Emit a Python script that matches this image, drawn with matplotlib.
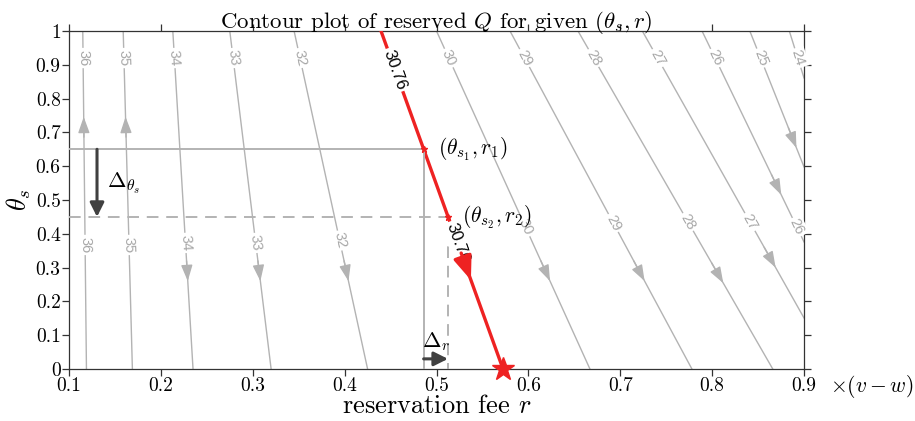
import numpy as np
import matplotlib
matplotlib.use("Agg")
import matplotlib.pyplot as plt

plt.rcParams['font.family'] = 'serif'
plt.rcParams['font.serif'] = ['cmr10']
plt.rcParams['mathtext.fontset'] = 'cm'
plt.rcParams['axes.formatter.use_mathtext'] = True

# grey contour levels: r where each line crosses theta=1, and where it leaves the box
levels = [36, 35, 34, 33, 32, 30, 29, 28, 27, 26, 25, 24]
r_top = [0.115, 0.159, 0.213, 0.275, 0.345, 0.500, 0.580, 0.654, 0.724, 0.789, 0.841, 0.884]
r_end = [0.119, 0.169, 0.235, 0.320, 0.425, 0.667, 0.778, 0.866, 0.9, 0.9, 0.9, 0.9]
th_end = [0, 0, 0, 0, 0, 0, 0, 0, 0.151, 0.376, 0.598, 0.861]
label_top_th = [0.92] * 12
label_bot_th = [0.367, 0.367, 0.373, 0.373, 0.38, 0.42, 0.432, 0.435, 0.435, 0.42, None, None]
arrow_th = [0.746, 0.746, 0.26, 0.26, 0.26, 0.26, 0.26, 0.254, 0.30, 0.515, 0.654, None]
arrow_up = [True, True, False, False, False, False, False, False, False, False, False, False]

# highlighted contour Q = 30.76
red_level = 30.76
red_top = 0.4396
red_bot = 0.5724
red_label_th = [0.885, 0.373]
red_arrow_th = 0.263

theta1, r1 = 0.65, 0.486
theta2, r2 = 0.45, 0.5125

grey = '#b3b3b3'
red = '#ee2222'
dark = '#404040'

fig = plt.figure(figsize=(9.15, 4.21), dpi=100)
ax = fig.add_axes([0.0754, 0.1235, 0.8033, 0.8029])
ax.set_xlim(0.1, 0.9)
ax.set_ylim(0, 1)


def along(rt, re, te, th):
    # point on the straight contour at height th
    return rt + (re - rt) * (1 - th) / (1 - te)


def angle(p, q):
    a = ax.transData.transform(p)
    b = ax.transData.transform(q)
    return np.degrees(np.arctan2(b[1] - a[1], b[0] - a[0]))


for i, lev in enumerate(levels):
    ax.plot([r_top[i], r_end[i]], [1, th_end[i]], color=grey, lw=1.0, zorder=2)
    rot = angle((r_top[i], 1), (r_end[i], th_end[i]))
    for th in [label_top_th[i], label_bot_th[i]]:
        if th is None:
            continue
        x = along(r_top[i], r_end[i], th_end[i], th)
        ax.text(x, th, str(lev), rotation=rot, rotation_mode='anchor', ha='center', va='center',
                fontsize=10.5, color='#a8a8a8', family='Liberation Sans', zorder=3,
                bbox=dict(fc='white', ec='none', pad=1.5))
    if arrow_th[i] is not None:
        th = arrow_th[i]
        d = -0.06 if not arrow_up[i] else 0.06
        x0 = along(r_top[i], r_end[i], th_end[i], th - d)
        x1 = along(r_top[i], r_end[i], th_end[i], th)
        ax.annotate('', xy=(x1, th), xytext=(x0, th - d),
                    arrowprops=dict(arrowstyle='-|>,head_length=0.7,head_width=0.25', color=grey,
                                    lw=1.0, shrinkA=0, shrinkB=0, mutation_scale=14), zorder=3)

# red contour
ax.plot([red_top, red_bot], [1, 0], color=red, lw=2.4, zorder=4)
rot = angle((red_top, 1), (red_bot, 0))
for th in red_label_th:
    x = along(red_top, red_bot, 0, th)
    ax.text(x, th, '%.2f' % red_level, rotation=rot, rotation_mode='anchor', ha='center', va='center',
            fontsize=12, color='black', family='Liberation Sans', zorder=5,
            bbox=dict(fc='white', ec='none', pad=1.5))
xa0 = along(red_top, red_bot, 0, red_arrow_th + 0.08)
xa1 = along(red_top, red_bot, 0, red_arrow_th)
ax.annotate('', xy=(xa1, red_arrow_th), xytext=(xa0, red_arrow_th + 0.08),
            arrowprops=dict(arrowstyle='-|>,head_length=0.9,head_width=0.35', color=red,
                            lw=2.4, shrinkA=0, shrinkB=0, mutation_scale=16), zorder=5)
ax.plot([red_bot], [0], marker='*', color=red, markersize=17, clip_on=False, zorder=6)
ax.plot([r1, r2], [theta1, theta2], ls='none', marker='*', color=red, markersize=5, zorder=6)

# reference lines
ax.plot([0.1, r1, r1], [theta1, theta1, 0], color=grey, lw=1.4, zorder=4)
ax.plot([0.1, r2, r2], [theta2, theta2, 0], color=grey, lw=1.4, ls=(0, (6, 4)), zorder=4)

# delta arrows
ax.annotate('', xy=(0.1305, theta2), xytext=(0.1305, theta1),
            arrowprops=dict(arrowstyle='-|>,head_length=0.6,head_width=0.3', color=dark, lw=2.2,
                            shrinkA=0, shrinkB=0, mutation_scale=14), zorder=6)
ax.text(0.141, 0.55, r'$\Delta_{\theta_s}$', fontsize=16, va='center', ha='left', zorder=6)
ax.annotate('', xy=(r2, 0.03), xytext=(r1, 0.03),
            arrowprops=dict(arrowstyle='-|>,head_length=0.6,head_width=0.3', color=dark, lw=2.2,
                            shrinkA=0, shrinkB=0, mutation_scale=14), zorder=6)
ax.text(r1 - 0.002, 0.08, r'$\Delta_r$', fontsize=16, va='center', ha='left', zorder=6)

ax.text(0.5017, theta1, r'$(\theta_{s_1}, r_1)$', fontsize=15.5, va='center', ha='left', zorder=6)
ax.text(0.5275, theta2, r'$(\theta_{s_2}, r_2)$', fontsize=15.5, va='center', ha='left', zorder=6)

xticks = [0.1, 0.2, 0.3, 0.4, 0.5, 0.6, 0.7, 0.8, 0.9]
yticks = [0, 0.1, 0.2, 0.3, 0.4, 0.5, 0.6, 0.7, 0.8, 0.9, 1]
ax.set_xticks(xticks)
ax.set_xticklabels(['%g' % v for v in xticks])
ax.set_yticks(yticks)
ax.set_yticklabels(['%g' % v for v in yticks])
ax.tick_params(direction='out', length=5, width=0.9, color='#333333', labelsize=14, pad=1,
               top=True, right=True, labeltop=False, labelright=False)
for s in ax.spines.values():
    s.set_color('#333333')
    s.set_linewidth(0.9)

ax.set_xlabel('reservation fee $r$', fontsize=19, labelpad=-1)
ax.set_ylabel(r'$\theta_s$', fontsize=19, labelpad=2)
ax.set_title(r'Contour plot of reserved $Q$ for given $(\theta_s, r)$', fontsize=16.5, pad=2)
ax.text(1.035, -0.012, r'$\times(v-w)$', transform=ax.transAxes, fontsize=15.5, va='top', ha='left')

fig.savefig('out.png', dpi=100)
